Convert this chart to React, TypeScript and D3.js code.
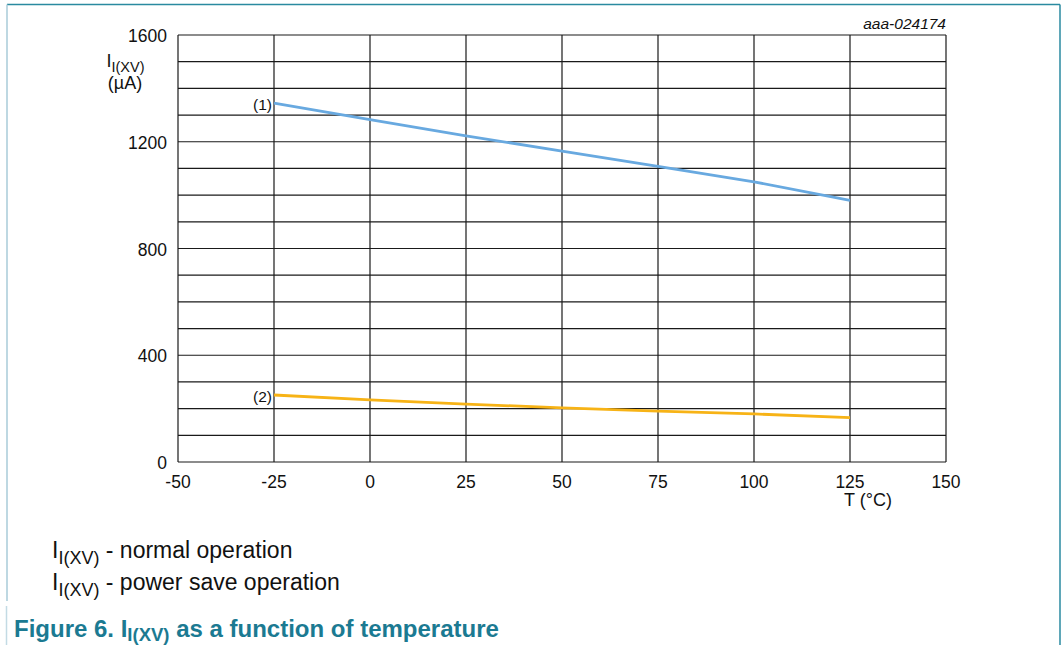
import React from "react";
import * as d3 from "d3";

const temps = [-25, 0, 25, 50, 75, 100, 125];
const normalOp = [1345, 1283, 1222, 1165, 1108, 1050, 980];
const powerSave = [251, 233, 217, 203, 191, 180, 166];
const xTicks = [-50, -25, 0, 25, 50, 75, 100, 125, 150];
const yTicks = [0, 400, 800, 1200, 1600];
const yGrid = d3.range(0, 1601, 100);

const W = 1063, H = 645;
const L = 178, R = 946, T = 35, B = 462;
const FONT = "'Liberation Sans', Arial, Helvetica, sans-serif";

export default function App() {
  const x = d3.scaleLinear().domain([-50, 150]).range([L, R]);
  const y = d3.scaleLinear().domain([0, 1600]).range([B, T]);
  const line = d3.line<number>().x((_, i) => x(temps[i])).y((v) => y(v));
  const series = [
    { vals: normalOp, color: "#68a9e0", label: "(1)" },
    { vals: powerSave, color: "#f7b316", label: "(2)" },
  ];
  return (
    <svg width={W} height={H} style={{ position: "absolute", left: 0, top: 0, background: "#fff" }} fontFamily={FONT}>
      <rect x={0} y={0} width={W} height={H} fill="#fff" />
      {/* frame */}
      <line x1={7} y1={4.5} x2={1060} y2={4.5} stroke="#2a8aa0" strokeWidth={1.5} />
      <line x1={1060} y1={4.5} x2={1060} y2={H} stroke="#2a8aa0" strokeWidth={1.5} />
      <line x1={7} y1={4.5} x2={7} y2={601} stroke="#a9cbd8" strokeWidth={1.5} />
      <line x1={6.5} y1={606} x2={6.5} y2={H} stroke="#c3dbe4" strokeWidth={1.5} />
      {/* grid */}
      {yGrid.map((v) => (
        <line key={"h" + v} x1={L} x2={R} y1={y(v)} y2={y(v)} stroke="#1a1a1a" strokeWidth={1.2} />
      ))}
      {xTicks.map((v) => (
        <line key={"v" + v} x1={x(v)} x2={x(v)} y1={T} y2={B} stroke="#1a1a1a" strokeWidth={1.2} />
      ))}
      {/* lines */}
      {series.map((s) => (
        <path key={s.label} d={line(s.vals) || ""} fill="none" stroke={s.color} strokeWidth={2.8} />
      ))}
      {series.map((s) => (
        <g key={"lab" + s.label}>
          <rect x={x(temps[0]) - 24} y={y(s.vals[0]) - 9} width={23} height={18} fill="#fff" />
          <text x={x(temps[0]) - 2} y={y(s.vals[0]) + 7} textAnchor="end" fontSize={15.5} fill="#111">
            {s.label}
          </text>
        </g>
      ))}
      {/* y tick labels */}
      {yTicks.map((v) => (
        <text key={"yt" + v} x={L - 11} y={y(v) + 7} textAnchor="end" fontSize={17.5} fill="#111">
          {v}
        </text>
      ))}
      {/* x tick labels */}
      {xTicks.map((v) => (
        <text key={"xt" + v} x={x(v)} y={B + 26} textAnchor="middle" fontSize={17.5} fill="#111">
          {v}
        </text>
      ))}
      <text x={868} y={506} textAnchor="middle" fontSize={18} fill="#111">T (°C)</text>
      <text x={125.5} y={67} textAnchor="middle" fontSize={18} fill="#111">
        I<tspan fontSize={14.5} dy={5}>I(XV)</tspan>
      </text>
      <text x={125} y={89} textAnchor="middle" fontSize={18} fill="#111">(µA)</text>
      <text x={R} y={29} textAnchor="end" fontSize={15.5} fontStyle="italic" fill="#111">aaa-024174</text>
      {/* legend */}
      <text x={52} y={558} fontSize={23} fill="#111">
        I<tspan fontSize={18} dy={6}>I(XV)</tspan><tspan dy={-6}> - normal operation</tspan>
      </text>
      <text x={52} y={589.5} fontSize={23} fill="#111">
        I<tspan fontSize={18} dy={6}>I(XV)</tspan><tspan dy={-6}> - power save operation</tspan>
      </text>
      {/* caption */}
      <text x={14} y={637} fontSize={24} fontWeight="bold" fill="#1b7a92">
        Figure 6. I<tspan fontSize={18.5} dy={3.5}>I(XV)</tspan><tspan dy={-3.5}> as a function of temperature</tspan>
      </text>
    </svg>
  );
}
